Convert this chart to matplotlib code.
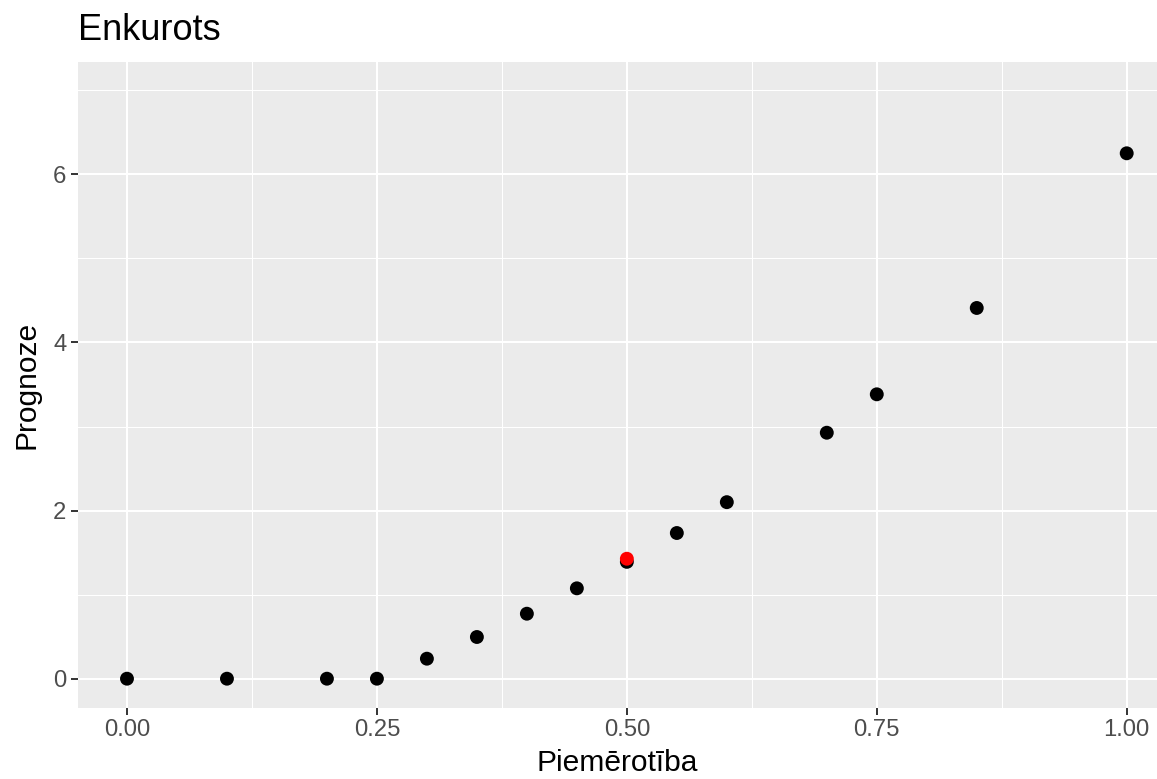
import matplotlib
matplotlib.use('Agg')
import matplotlib.pyplot as plt
from matplotlib.ticker import MultipleLocator

# data
piemerotiba = [0.0, 0.1, 0.2, 0.25, 0.3, 0.35, 0.4, 0.45, 0.5, 0.55, 0.6, 0.7, 0.75, 0.85, 1.0]
prognoze = [0.0, 0.0, 0.0, 0.0, 0.238, 0.496, 0.773, 1.075, 1.39, 1.733, 2.10, 2.926, 3.383, 4.41, 6.25]
anchor_x = [0.5]
anchor_y = [1.427]
x_ticks = [0.0, 0.25, 0.5, 0.75, 1.0]
x_labels = ['0.00', '0.25', '0.50', '0.75', '1.00']
y_ticks = [0, 2, 4, 6]

plt.rcParams['font.family'] = ['Liberation Sans', 'DejaVu Sans']

fig = plt.figure(figsize=(11.57, 7.79), dpi=100)
ax = fig.add_axes([77.7 / 1157, 1 - 707.7 / 779, 1 - 77.7 / 1157, (707.7 - 62) / 779])
ax.set_facecolor('#EBEBEB')

ax.scatter(piemerotiba, prognoze, s=100, color='black', edgecolors='none', zorder=3)
ax.scatter(anchor_x, anchor_y, s=100, color='red', edgecolors='none', zorder=4)

ax.set_xlim(-0.0493, 1.0303)
ax.set_ylim(-0.345, 7.336)

ax.set_xticks(x_ticks)
ax.set_xticklabels(x_labels)
ax.set_yticks(y_ticks)
ax.xaxis.set_minor_locator(MultipleLocator(0.125))
ax.yaxis.set_minor_locator(MultipleLocator(1))
ax.grid(which='major', color='white', linewidth=1.5)
ax.grid(which='minor', color='white', linewidth=0.75)
ax.set_axisbelow(True)

for s in ax.spines.values():
    s.set_visible(False)

ax.tick_params(which='major', length=5, width=1.4, color='#333333', labelcolor='#4D4D4D', labelsize=17.2, pad=3)
ax.tick_params(which='minor', length=0)

ax.set_xlabel('Piemērotība', fontsize=21.6, labelpad=6)
ax.set_ylabel('Prognoze', fontsize=21.6, labelpad=9)
ax.set_title('Enkurots', fontsize=26, loc='left', pad=16)

fig.savefig('out.png', dpi=100)
